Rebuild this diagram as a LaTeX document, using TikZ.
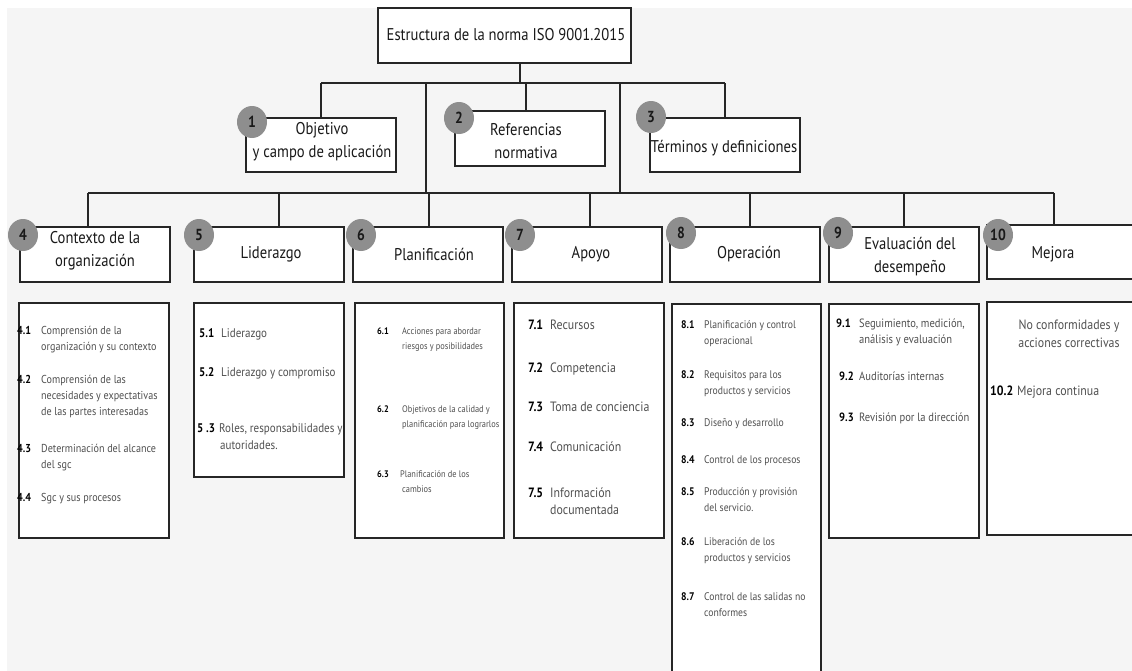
\documentclass[tikz,border=0pt]{standalone}
\usepackage{fontspec}
\setmainfont{PT Sans}
\newfontfamily\hf[FakeStretch=0.86]{PT Sans}
\newfontfamily\cf[FakeStretch=0.88]{PT Sans}
\usetikzlibrary{shapes.geometric}
\definecolor{bggray}{HTML}{F5F5F5}
\definecolor{edge}{HTML}{262626}
\definecolor{circ}{HTML}{8E8E8E}
\definecolor{ctext}{HTML}{505050}
\tikzset{
  box/.style={draw=edge, line width=1.6pt, fill=white, inner sep=0pt},
  conn/.style={draw=edge, line width=1.2pt},
  badge/.style={ellipse, fill=circ, minimum width=30pt, minimum height=32pt, inner sep=0pt,
    font=\hf\bfseries\fontsize{16}{16}\selectfont, text=black!90},
  head/.style={font=\hf\fontsize{17}{23}\selectfont, text=black!90, align=center, inner sep=0pt},
  num/.style={anchor=base west, inner sep=0pt, text=black, execute at begin node={\bfseries}},
  itxt/.style={anchor=base west, inner sep=0pt, text=ctext, align=left},
}
\begin{document}
\begin{tikzpicture}[x=1pt,y=-1pt]
\useasboundingbox (0,0) rectangle (1132,670);
\clip (0,0) rectangle (1132,670);
\fill[bggray] (7,8) rectangle (1140,680);

% connector points
\coordinate (t0) at (520,63);
\coordinate (j0) at (520,83);
\coordinate (bl) at (321,83);
\coordinate (br) at (725,83);
\coordinate (d2) at (526,83);
\coordinate (v1) at (426,83);
\coordinate (v2) at (620,83);
\coordinate (w1) at (426,193);
\coordinate (w2) at (620,193);
\coordinate (cl) at (88,193);
\coordinate (cr) at (1054,193);
\coordinate (k5) at (279,193);
\coordinate (k6) at (429,193);
\coordinate (k7) at (590,193);
\coordinate (k8) at (750,193);
\coordinate (k9) at (904,193);

% top box
\node[box, minimum width=253pt, minimum height=55pt] (top) at (504.5,35.5) {};
\node[head] (toplbl) at (506,35) {Estructura de la norma ISO 9001.2015};

% level-1 boxes
\node[box, minimum width=150pt, minimum height=54pt] (b1) at (321,145) {};
\node[box, minimum width=150pt, minimum height=55pt] (b2) at (530,138.5) {};
\node[box, minimum width=150pt, minimum height=54pt] (b3) at (725,145) {};

\draw[conn] (top.south -| t0) -- (j0);
\draw[conn] (bl) -- (br);
\draw[conn] (bl) -- (b1.north -| bl);
\draw[conn] (d2) -- (b2.north -| d2);
\draw[conn] (br) -- (b3.north -| br);
\draw[conn] (v1) -- (w1);
\draw[conn] (v2) -- (w2);

% level-2 boxes
\node[box, minimum width=150pt, minimum height=55pt] (b4) at (95,254.5) {};
\node[box, minimum width=150pt, minimum height=55pt] (b5) at (269,254.5) {};
\node[box, minimum width=150pt, minimum height=55pt] (b6) at (428,254.5) {};
\node[box, minimum width=150pt, minimum height=55pt] (b7) at (587,254.5) {};
\node[box, minimum width=150pt, minimum height=55pt] (b8) at (745,254.5) {};
\node[box, minimum width=150pt, minimum height=55pt] (b9) at (904,254.5) {};
\node[box, minimum width=160pt, minimum height=54pt] (b10) at (1067,252) {};

\draw[conn] (cl) -- (cr);
\draw[conn] (cl) -- (b4.north -| cl);
\draw[conn] (k5) -- (b5.north -| k5);
\draw[conn] (k6) -- (b6.north -| k6);
\draw[conn] (k7) -- (b7.north -| k7);
\draw[conn] (k8) -- (b8.north -| k8);
\draw[conn] (k9) -- (b9.north -| k9);
\draw[conn] (cr) -- (b10.north -| cr);

% labels of boxes
\node[head] (l1) at (322,141.5) {Objetivo\\y campo de aplicación};
\node[head] (l2) at (526,141.5) {Referencias\\normativa};
\node[head] (l3) at (724,148) {Términos y definiciones};
\node[head] (l4) at (95,251) {Contexto de la\\organización};
\node[head] (l5) at (271,254) {Liderazgo};
\node[head] (l6) at (434,254) {Planificación};
\node[head] (l7) at (591,254) {Apoyo};
\node[head] (l8) at (749,254) {Operación};
\node[head] (l9) at (910,256.5) {Evaluación del\\desempeño};
\node[head] (l10) at (1053,254) {Mejora};

% badges
\node[badge] (c1) at (252,122) {1};
\node[badge] (c2) at (459,118) {2};
\node[badge] (c3) at (651,117) {3};
\node[badge] (c4) at (23,235) {4};
\node[badge] (c5) at (199,235) {5};
\node[badge] (c6) at (361,235) {6};
\node[badge] (c7) at (520,235) {7};
\node[badge] (c8) at (681,233) {8};
\node[badge] (c9) at (838,233) {9};
\node[badge] (c10) at (998,235) {10};

% content boxes
\node[box, minimum width=150pt, minimum height=235pt] (p4) at (94,420.5) {};
\node[box, minimum width=150pt, minimum height=174pt] (p5) at (269,390) {};
\node[box, minimum width=149pt, minimum height=235pt] (p6) at (429.5,420.5) {};
\node[box, minimum width=150pt, minimum height=235pt] (p7) at (589,420.5) {};
\node[box, minimum width=149pt, minimum height=390pt] (p8) at (746.5,499) {};
\node[box, minimum width=150pt, minimum height=234pt] (p9) at (904,421) {};
\node[box, minimum width=160pt, minimum height=233pt] (p10) at (1067,418.5) {};

% (multi-line texts are placed by the baseline of their last line)
% box 4 items
\begin{scope}[every node/.append style={font=\cf\fontsize{11.5}{16}\selectfont}]
\node[num] (n41) at (17,334) {4.1};
\node[itxt] (t41) at (41,350) {Comprensión de la\\organización y su contexto};
\node[num] (n42) at (17,383) {4.2};
\node[itxt] (t42) at (41,415) {Comprensión de las\\necesidades y expectativas\\de las partes interesadas};
\node[num] (n43) at (17,452) {4.3};
\node[itxt] (t43) at (41,468) {Determinación del alcance\\del sgc};
\node[num] (n44) at (17,501) {4.4};
\node[itxt] (t44) at (41,501) {Sgc y sus procesos};
\end{scope}

% box 5 items
\begin{scope}[every node/.append style={font=\cf\fontsize{12.5}{17}\selectfont}]
\node[num] (n51) at (199,337) {5.1};
\node[itxt] (t51) at (221,337) {Liderazgo};
\node[num] (n52) at (199,376) {5.2};
\node[itxt] (t52) at (221,376) {Liderazgo y compromiso};
\node[num] (n53) at (197,432) {5 .3};
\node[itxt] (t53) at (219,449) {Roles, responsabilidades y\\\hspace*{1pt}autoridades.};
\end{scope}

% box 6 items
\begin{scope}[every node/.append style={font=\cf\fontsize{9.5}{15}\selectfont}]
\node[num] (n61) at (377,334) {6.1};
\node[itxt] (t61) at (402,349) {Acciones para abordar\\riesgos y posibilidades};
\node[num] (n62) at (377,412) {6.2};
\node[itxt] (t62) at (402,427) {Objetivos de la calidad y\\planificación para lograrlos};
\node[num] (n63) at (377,477) {6.3};
\node[itxt] (t63) at (400,492) {Planificación de los\\\hspace*{2pt}cambios};
\end{scope}

% box 7 items
\begin{scope}[every node/.append style={font=\cf\fontsize{13.5}{17}\selectfont}]
\node[num] (n71) at (528,329) {7.1};
\node[itxt] (t71) at (550,329) {Recursos};
\node[num] (n72) at (528,372) {7.2};
\node[itxt] (t72) at (550,372) {Competencia};
\node[num] (n73) at (528,411) {7.3};
\node[itxt] (t73) at (550,411) {Toma de conciencia};
\node[num] (n74) at (528,451) {7.4};
\node[itxt] (t74) at (550,451) {Comunicación};
\node[num] (n75) at (528,497) {7.5};
\node[itxt] (t75) at (550,514) {Información\\documentada};
\end{scope}

% box 8 items
\begin{scope}[every node/.append style={font=\cf\fontsize{11}{16.5}\selectfont}]
\node[num] (n81) at (681,328) {8.1};
\node[itxt] (t81) at (704,344.5) {Planificación y control\\operacional};
\node[num] (n82) at (681,378) {8.2};
\node[itxt] (t82) at (704,394.5) {Requisitos para los\\productos y servicios};
\node[num] (n83) at (681,426) {8.3};
\node[itxt] (t83) at (704,426) {Diseño y desarrollo};
\node[num] (n84) at (681,463) {8.4};
\node[itxt] (t84) at (704,463) {Control de los procesos};
\node[num] (n85) at (681,495) {8.5};
\node[itxt] (t85) at (704,511.5) {Producción y provisión\\del servicio.};
\node[num] (n86) at (681,545) {8.6};
\node[itxt] (t86) at (704,561.5) {Liberación de los\\productos y servicios};
\node[num] (n87) at (681,600) {8.7};
\node[itxt] (t87) at (704,616.5) {Control de las salidas no\\conformes};
\end{scope}

% box 9 items
\begin{scope}[every node/.append style={font=\cf\fontsize{12}{16}\selectfont}]
\node[num] (n91) at (836,327) {9.1};
\node[itxt] (t91) at (859,343) {Seguimiento, medición,\\análisis y evaluación};
\node[num] (n92) at (839,380) {9.2};
\node[itxt] (t92) at (859,380) {Auditorías internas};
\node[num] (n93) at (839,421) {9.3};
\node[itxt] (t93) at (859,421) {Revisión por la dirección};
\end{scope}

% box 10 items
\begin{scope}[every node/.append style={font=\cf\fontsize{13.5}{18}\selectfont}]
\node[itxt, anchor=base, align=center] (t101) at (1069,347) {No conformidades y\\acciones correctivas};
\node[num] (n102) at (990,395) {10.2};
\node[itxt] (t102) at (1017,395) {Mejora continua};
\end{scope}
\end{tikzpicture}
\end{document}
